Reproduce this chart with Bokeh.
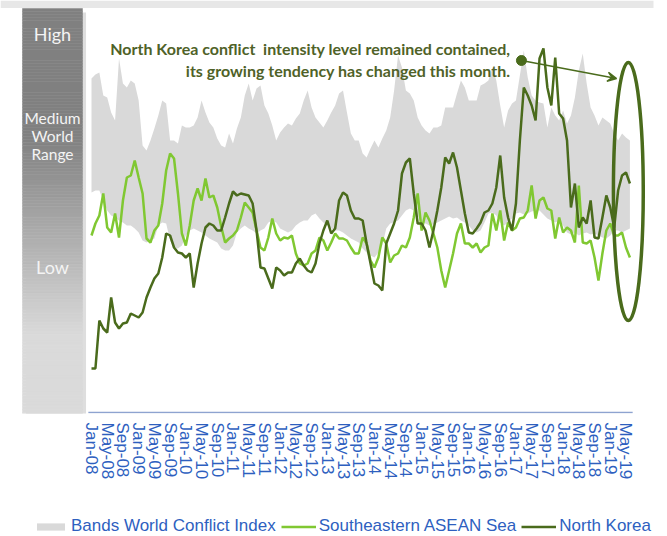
import numpy as np
from bokeh.plotting import figure
from bokeh.layouts import column
from bokeh.models import Range1d, FixedTicker, Legend, LegendItem, Arrow, VeeHead
from bokeh.core.properties import value
from bokeh.embed import file_html
from bokeh.resources import INLINE

# ---------------- data (monthly, Jan-08 .. Jun-19), arbitrary intensity scale ----------------
months = list(range(138))

band_upper = [334, 338, 340, 317, 315, 300, 292, 354, 329, 325,
              332, 329, 312, 267, 262, 272, 284, 297, 312, 309,
              272, 272, 269, 287, 285, 285, 287, 295, 312, 300,
              290, 285, 274, 267, 265, 279, 269, 284, 295, 317,
              329, 312, 324, 327, 307, 299, 287, 272, 280, 285,
              289, 287, 294, 299, 312, 322, 305, 295, 290, 285,
              292, 300, 307, 319, 322, 300, 279, 272, 272, 259,
              255, 264, 272, 265, 274, 282, 295, 322, 357, 345,
              322, 319, 312, 295, 287, 282, 279, 285, 285, 287,
              305, 305, 305, 319, 332, 325, 312, 312, 312, 327,
              329, 332, 345, 332, 307, 285, 302, 309, 312, 337,
              362, 335, 317, 312, 310, 309, 285, 305, 297, 292,
              302, 289, 297, 315, 342, 359, 329, 305, 297, 287,
              295, 292, 289, 279, 272, 279, 275, 272]

band_lower = [220, 222, 222, 212, 202, 197, 195, 192, 190, 187,
              187, 184, 180, 172, 170, 172, 174, 187, 190, 189,
              172, 165, 164, 167, 177, 182, 184, 182, 180, 177,
              174, 172, 170, 164, 162, 162, 167, 180, 184, 187,
              184, 182, 179, 182, 184, 190, 192, 190, 184, 182,
              180, 182, 187, 190, 192, 192, 197, 199, 194, 190,
              187, 184, 182, 182, 180, 177, 174, 172, 170, 164,
              160, 157, 155, 160, 167, 184, 189, 190, 192, 197,
              202, 204, 202, 197, 190, 189, 187, 188, 190, 192,
              194, 196, 194, 195, 192, 190, 187, 182, 180, 182,
              190, 199, 200, 197, 190, 187, 190, 194, 199, 200,
              198, 199, 201, 202, 202, 198, 194, 192, 190, 192,
              187, 180, 178, 180, 177, 179, 180, 178, 179, 177,
              175, 174, 177, 182, 182, 180, 182, 184]

asean = [177, 189, 197, 219, 185, 180, 199, 175, 212, 235,
         237, 252, 235, 219, 174, 170, 182, 187, 209, 242,
         259, 254, 219, 179, 167, 187, 212, 224, 212, 234,
         215, 217, 205, 186, 170, 174, 177, 182, 195, 210,
         205, 200, 182, 165, 162, 175, 194, 179, 172, 175,
         174, 177, 159, 149, 147, 149, 159, 162, 175, 172,
         162, 170, 179, 174, 174, 172, 165, 159, 159, 175,
         169, 152, 145, 155, 175, 169, 150, 157, 159, 167,
         165, 175, 195, 219, 182, 200, 192, 179, 165, 142,
         125, 142, 159, 179, 189, 169, 169, 165, 169, 160,
         165, 167, 199, 182, 202, 172, 190, 182, 185, 194,
         195, 202, 227, 194, 212, 215, 204, 202, 174, 195,
         180, 185, 182, 170, 227, 170, 169, 172, 155, 132,
         159, 182, 189, 177, 177, 180, 165, 155]

north_korea = [44, 44, 92, 84, 80, 115, 90, 84, 89, 90,
               99, 97, 95, 100, 115, 125, 134, 139, 155, 179,
               177, 165, 160, 159, 155, 159, 125, 149, 169, 185,
               189, 187, 182, 182, 195, 209, 221, 217, 219, 218,
               217, 209, 182, 145, 144, 134, 124, 145, 142, 137,
               140, 140, 149, 154, 147, 142, 140, 149, 169, 182,
               192, 179, 184, 212, 220, 217, 202, 194, 194, 192,
               169, 149, 129, 127, 122, 169, 179, 189, 202, 239,
               250, 254, 219, 189, 189, 182, 165, 182, 202, 225,
               255, 249, 260, 245, 222, 199, 180, 179, 184, 190,
               200, 202, 209, 225, 257, 215, 195, 182, 209, 272,
               325, 317, 307, 292, 354, 364, 325, 307, 355, 299,
               294, 272, 205, 229, 185, 195, 189, 212, 175, 174,
               195, 217, 205, 185, 222, 237, 240, 229]

tick_months = ["Jan", "May", "Sep"]
tick_years = list(range(8, 20))
tick_labels = [f"{m}-{y:02d}" for y in tick_years for m in tick_months][:35]
tick_positions = list(range(0, 4 * len(tick_labels), 4))

scale_labels_big = ["High", "Low"]
scale_labels_mid = ["Medium", "World", "Range"]
note_lines = ["North Korea conflict\u00a0 intensity level remained contained,",
              "its growing tendency has changed this month."]
legend_labels = ["Bands World Conflict Index", "Southeastern ASEAN Sea", "North Korea"]

# ---------------- styling ----------------
BAND = "#d9d9d9"
LIGHT = "#80c832"
DARK = "#4a6b1c"
BLUE = "#2e5fbf"
NOTE = "#4f6228"
W, H_MAIN, H_LEG = 667, 512, 24

p = figure(width=W, height=H_MAIN, output_backend="svg", toolbar_location=None,
           x_range=Range1d(-23.155, 146.565), y_range=Range1d(-1, 412),
           y_axis_location=None, min_border_left=0, min_border_right=0,
           min_border_top=0, min_border_bottom=H_MAIN - 413,
           outline_line_color=None, background_fill_color="white",
           border_fill_color="white")
p.grid.visible = False

# top strip (cropped header of the original slide)
p.quad(left=[-23.155], right=[143.0], top=[412], bottom=[404.6],
       fill_color="#e7e7e7", line_color=None)

# ---------------- left gradient scale bar ----------------
bar_l, bar_r, bar_t, bar_b = -17.56, -2.29, 404, -3
p.quad(left=bar_l + 0.9, right=bar_r + 0.9, top=bar_t - 4, bottom=bar_b - 4,
       fill_color="#c8c8c8", fill_alpha=0.6, line_color=None)
n = 140
edges = np.linspace(bar_t, bar_b, n + 1)
cols = []
for i in range(n):
    v = 0.5 * (edges[i] + edges[i + 1])
    py = 412 - v
    t = min(max((py - 135) / (335 - 135), 0), 1)
    g = int(round(128 + t * (218 - 128)))
    cols.append("#%02x%02x%02x" % (g, g, g))
p.quad(left=bar_l, right=bar_r, top=edges[:-1], bottom=edges[1:],
       fill_color=cols, line_color=cols, line_width=0.5)
bar_c = 0.5 * (bar_l + bar_r)
p.text(x=[bar_c, bar_c], y=[379, 146], text=scale_labels_big,
       text_align="center", text_baseline="middle", text_color="#f4f4f4",
       text_font=value("Lato"), text_font_size="18px")
p.text(x=[bar_c] * 3, y=[295, 277, 259], text=scale_labels_mid,
       text_align="center", text_baseline="middle", text_color="#f4f4f4",
       text_font=value("Lato"), text_font_size="15.5px")

# ---------------- series ----------------
p.varea(x=months, y1=band_lower, y2=band_upper, fill_color=BAND)
p.line(months, asean, line_color=LIGHT, line_width=2.5)
p.line(months, north_korea, line_color=DARK, line_width=2.5)

# baseline axis line
p.segment(x0=[-0.8], y0=[0], x1=[137.7], y1=[0], line_color="#8ea3d0", line_width=1.5)

# ---------------- annotation ----------------
p.ellipse(x=[136.6], y=[221], width=7.6, height=258, fill_alpha=0,
          line_color=DARK, line_width=3.5)
p.scatter(x=[109.4], y=[352], size=10, color=DARK)
p.add_layout(Arrow(end=VeeHead(size=9, line_color=DARK, line_width=1.5, fill_color=DARK),
                   x_start=109.4, y_start=352, x_end=133.6, y_end=334,
                   line_color=DARK, line_width=1.5))
p.text(x=[106.6, 106.6], y=[364, 342], text=note_lines, text_align="right",
       text_baseline="middle", text_font=value("Lato"), text_font_style="bold",
       text_font_size="16px", text_color=NOTE)

# ---------------- x axis ----------------
ax = p.xaxis[0]
ax.ticker = FixedTicker(ticks=tick_positions)
ax.major_label_overrides = {t: l for t, l in zip(tick_positions, tick_labels)}
ax.major_label_orientation = "vertical"
ax.axis_line_color = None
ax.major_tick_line_color = None
ax.minor_tick_line_color = None
ax.major_tick_out = 0
ax.major_tick_in = 0
ax.major_label_standoff = 9
ax.major_label_text_color = BLUE
ax.major_label_text_font = "Liberation Sans"
ax.major_label_text_font_size = "17px"

# ---------------- legend (own strip under the chart) ----------------
# the same series are drawn here far outside the visible range, only to feed the legend
pl = figure(width=W, height=H_LEG, output_backend="svg", toolbar_location=None,
            x_range=Range1d(0, 1), y_range=Range1d(-1001, -1000),
            x_axis_location=None, y_axis_location=None,
            min_border=0, outline_line_color=None,
            background_fill_color="white", border_fill_color="white")
pl.grid.visible = False
lr_band = pl.varea(x=months, y1=band_lower, y2=band_upper, fill_color=BAND)
lr_asean = pl.line(months, asean, line_color=LIGHT, line_width=2.5)
lr_nk = pl.line(months, north_korea, line_color=DARK, line_width=2.5)
legend = Legend(items=[LegendItem(label=legend_labels[0], renderers=[lr_band]),
                       LegendItem(label=legend_labels[1], renderers=[lr_asean]),
                       LegendItem(label=legend_labels[2], renderers=[lr_nk])],
                orientation="horizontal", location=(33, 0),
                border_line_color=None, background_fill_alpha=0,
                padding=0, margin=0, spacing=5, label_standoff=3,
                glyph_width=35, glyph_height=9, label_height=18,
                label_text_font="Liberation Sans", label_text_font_size="17px",
                label_text_color=BLUE)
pl.add_layout(legend)

layout = column(p, pl, spacing=0)
open("out.html", "w").write(file_html(layout, INLINE))
